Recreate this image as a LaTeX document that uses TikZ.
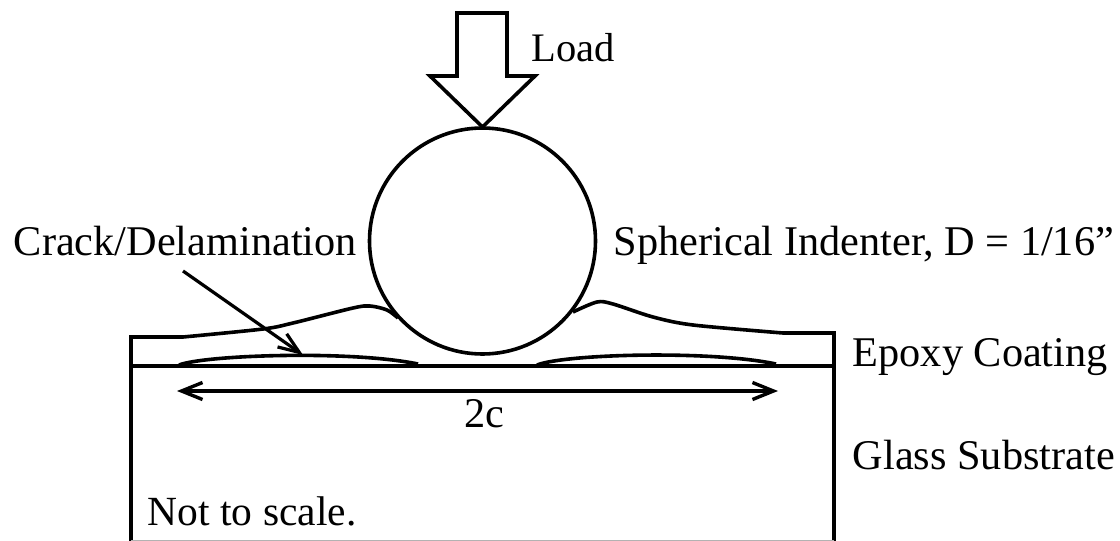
\documentclass[tikz,border=0pt]{standalone}
\usepackage{fontspec}
\setmainfont{Liberation Serif}
\usetikzlibrary{positioning,arrows.meta,calc}

\begin{document}
\begin{tikzpicture}[
			x=1pt,y=-1pt,
			line width=3.6pt,
			lbl/.style={anchor=base west,inner sep=0pt,font=\fontsize{42.3}{42.3}\selectfont},
			ball/.style={draw,circle,inner sep=0pt,minimum size=226pt},
			dim/.style={line width=3.4pt,{Straight Barb[length=21pt,width=17pt,line width=3.4pt]}-{Straight Barb[length=21pt,width=17pt,line width=3.4pt]}},
			pointer/.style={line width=3.2pt,-{Straight Barb[length=21pt,width=16pt,line width=3.2pt]}},
			>=Stealth
			]
			\useasboundingbox (0,0) rectangle (1120,541);
			
			\node[ball] (ball) at (482.5,241) {};
			
			% load arrow
			\draw[line join=miter,miter limit=10] (457,13)--(507,13)--(507,76)--(535,76)--(482.5,127)--(430,76)--(457,76)--cycle;
			
			\node[lbl,font=\fontsize{40.5}{40.5}\selectfont] (load) at (530,61) {Load};
			\node[lbl] (crack) at (12,255) {Crack/Delamination};
			\node[lbl] (sphere) at (612,255) {Spherical Indenter, D = 1/16”};
			\node[lbl] (epoxy) at (851,366) {Epoxy Coating};
			\node[lbl] (glass) at (851,469) {Glass Substrate};
			\node[lbl] (twoc) at (463,427) {2c};
			\node[lbl,font=\fontsize{41.5}{41.5}\selectfont] (note) at (146,525) {Not to scale.};
			
			\coordinate (tl) at (131,337);
			\coordinate (il) at (131,366);
			\coordinate (bl) at (131,541);
			\coordinate (tr) at (834,333);
			\coordinate (ir) at (834,366);
			\coordinate (br) at (834,541);
			\coordinate (dimL) at (177,391);
			\coordinate (dimR) at (778,391);
			\coordinate (crackTip) at (303,355);
			
			% substrate and coating
			\draw (bl)--(tl)--(183,337);
			\draw (br)--(tr)--(783,333);
			\draw (il)--(ir);
			\draw[gray!60,line width=1pt] (131,540.5)--(834,540.5);
			\draw plot[smooth,tension=0.5] coordinates {(183,337) (263,329) (293,323) (353,308) (370,306) (387,310) (398,318)};
			\draw plot[smooth,tension=0.5] coordinates {(573,312) (597,302) (613,304) (653,317) (693,325) (783,333)};
			
			% delaminated zones
			\draw (179,365) .. controls (205,355) and (350,350) .. (418,364);
			\draw (537,365) .. controls (565,354) and (710,350) .. (776,364);
			
			\draw[dim] (dimL)--(dimR);
			\draw[pointer] ($(crack.base west)+(171,16)$)--(crackTip);
			
		\end{tikzpicture}
\end{document}
